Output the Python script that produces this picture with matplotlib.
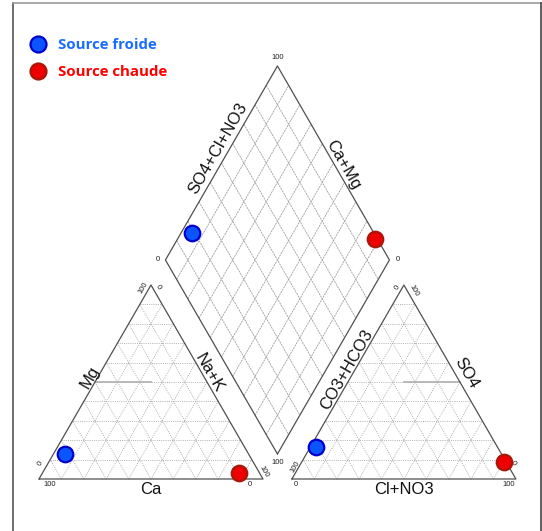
import numpy as np
import matplotlib
matplotlib.use("Agg")
import matplotlib.pyplot as plt
from matplotlib.lines import Line2D

# ---------------- data (percent) ----------------
samples = ["Source froide", "Source chaude"]
ca = [82, 9]
mg = [13, 3]
nak = [5, 88]
hco3 = [81, 1]
so4 = [16.5, 9]
cl = [2.5, 90]
fill_colors = ["#0a55ff", "#ee0000"]
edge_colors = ["#0000cc", "#a81808"]
text_colors = ["#1a6cff", "#ff0000"]

cation_labels = ["Ca", "Mg", "Na+K"]
anion_labels = ["Cl+NO3", "CO3+HCO3", "SO4"]
diamond_labels = ["SO4+Cl+NO3", "Ca+Mg"]

# ---------------- geometry ----------------
W, H = 542, 531
U = 224.0           # pixels per unit side
OX, OY = 39.0, 479.0  # pixel position of cation left corner
h = np.sqrt(3) / 2
g = 0.129           # gap between triangles
AX0 = 1 + g         # anion triangle x offset
B = np.array([1 + g / 2, g * h])  # diamond bottom vertex

fig = plt.figure(figsize=(W / 100, H / 100), dpi=100)
ax = fig.add_axes([0, 0, 1, 1])
ax.set_xlim(-OX / U, (W - OX) / U)
ax.set_ylim(-(H - OY) / U, OY / U)
ax.axis("off")

def P(pt, dx=0, dy=0):
    """geometry point plus pixel offset (dx right, dy down)"""
    return pt[0] + dx / U, pt[1] - dy / U

def cat_xy(c, m, n):
    t = c + m + n
    m, n = m / t, n / t
    return n + 0.5 * m, h * m

def an_xy(hc, s, c):
    t = hc + s + c
    s, c = s / t, c / t
    return AX0 + c + 0.5 * s, h * s

def dia_xy(n, a):
    p = B + (1 - n) * np.array([-0.5, h]) + a * np.array([0.5, h])
    return p[0], p[1]

edge_kw = dict(color="#505050", lw=0.9, zorder=3, solid_capstyle="round")
tri_grid = dict(color="#a8a8a8", lw=0.6, ls=(0, (1.2, 1.4)), zorder=1)
dia_grid = dict(color="#a0a0a0", lw=0.6, ls=(0, (2.5, 0.9)), zorder=1)

# ---- triangles ----
for x0 in (0.0, AX0):
    xs = [x0, x0 + 1, x0 + 0.5, x0]
    ys = [0, 0, h, 0]
    ax.plot(xs, ys, **edge_kw)
    for i in range(1, 10):
        t = i / 10
        ax.plot([x0 + 0.5 * t, x0 + 1 - 0.5 * t], [h * t, h * t], **tri_grid)
        ax.plot([x0 + t, x0 + 0.5 * t], [0, h * t], **tri_grid)
        ax.plot([x0 + t, x0 + t + 0.5 * (1 - t)], [0, h * (1 - t)], **tri_grid)

# classification half lines
ax.plot([0.25, 0.5], [h / 2, h / 2], color="#b4b4b4", lw=1.3, zorder=2)
ax.plot([AX0 + 0.5, AX0 + 0.75], [h / 2, h / 2], color="#b4b4b4", lw=1.3, zorder=2)

# ---- diamond ----
L = B + np.array([-0.5, h])
R = B + np.array([0.5, h])
T = B + np.array([0, 2 * h])
ax.plot([B[0], L[0], T[0], R[0], B[0]], [B[1], L[1], T[1], R[1], B[1]], **edge_kw)
for i in range(1, 10):
    t = i / 10
    p0 = dia_xy(t, 0); p1 = dia_xy(t, 1)
    ax.plot([p0[0], p1[0]], [p0[1], p1[1]], **dia_grid)
    p0 = dia_xy(0, t); p1 = dia_xy(1, t)
    ax.plot([p0[0], p1[0]], [p0[1], p1[1]], **dia_grid)

# ---- points ----
for k in range(len(samples)):
    xc, yc = cat_xy(ca[k], mg[k], nak[k])
    xa, ya = an_xy(hco3[k], so4[k], cl[k])
    a = (so4[k] + cl[k]) / (hco3[k] + so4[k] + cl[k])
    n = nak[k] / (ca[k] + mg[k] + nak[k])
    xd, yd = dia_xy(n, a)
    ax.scatter([xc, xa, xd], [yc, ya, yd], s=125, c=fill_colors[k],
               edgecolors=edge_colors[k], linewidths=1.6, zorder=5)

# ---- tick labels ----
tk = dict(fontsize=5.5, color="#222222", ha="center", va="center",
          family="Liberation Sans", zorder=4)
C0, C1, CA = (0, 0), (1, 0), (0.5, h)
A0, A1, AA = (AX0, 0), (AX0 + 1, 0), (AX0 + 0.5, h)
ax.text(*P(C0, 11, 6), "100", **tk)
ax.text(*P(C1, -13, 6), "0", **tk)
ax.text(*P(C0, 1, -16), "0", rotation=60, **tk)
ax.text(*P(CA, -8, 3), "100", rotation=60, **tk)
ax.text(*P(CA, 7, 2), "0", rotation=-60, **tk)
ax.text(*P(C1, 1, -7), "100", rotation=-60, **tk)

ax.text(*P(A0, 4, 6), "0", **tk)
ax.text(*P(A1, -7, 6), "100", **tk)
ax.text(*P(A0, 3, -12), "100", rotation=60, **tk)
ax.text(*P(AA, -6, 2), "0", rotation=60, **tk)
ax.text(*P(AA, 10, 6), "100", rotation=-60, **tk)
ax.text(*P(A1, -3, -16), "0", rotation=-60, **tk)

ax.text(*P(T, 0, -8), "100", **tk)
ax.text(*P(L, -8, 0), "0", **tk)
ax.text(*P(R, 8, 0), "0", **tk)
ax.text(*P(B, 0, 9), "100", **tk)

# ---- axis titles ----
tt = dict(fontsize=12, color="#111111", ha="center", va="center",
          family="Liberation Sans", zorder=4)
ax.text(*P((0.5, 0), 0, 11), cation_labels[0], **tt)
ax.text(*P((0.25, h / 2), -5, -5), cation_labels[1], rotation=60, **tt)
ax.text(*P((0.75, h / 2), 2, -9), cation_labels[2], rotation=-60, **tt)
ax.text(*P((AX0 + 0.5, 0), 0, 11), anion_labels[0], **tt)
ax.text(*P((AX0 + 0.25, h / 2), -1, -12), anion_labels[1], rotation=60, **tt)
ax.text(*P((AX0 + 0.75, h / 2), 7, -9), anion_labels[2], rotation=-60, **tt)
midUL = (L + T) / 2
midUR = (R + T) / 2
ax.text(*P(midUL, -3, -15), diamond_labels[0], rotation=60, **tt)
ax.text(*P(midUR, 10, 2), diamond_labels[1], rotation=-60, **tt)

# ---- frame ----
fig.add_artist(Line2D([12.5 / W, 12.5 / W], [0, 1 - 2.5 / H], transform=fig.transFigure,
                      color="#555555", lw=1.2))
fig.add_artist(Line2D([12.5 / W, 540.5 / W], [1 - 2.5 / H, 1 - 2.5 / H], transform=fig.transFigure,
                      color="#999999", lw=1.2))
fig.add_artist(Line2D([540.5 / W, 540.5 / W], [0, 1 - 2.5 / H], transform=fig.transFigure,
                      color="#444444", lw=1.2))

# ---- legend ----
handles = [Line2D([], [], ls="", marker="o", markersize=11.5,
                  markerfacecolor=fill_colors[k], markeredgecolor=edge_colors[k],
                  markeredgewidth=1.6) for k in range(len(samples))]
leg = ax.legend(handles, samples, loc="upper left",
                bbox_to_anchor=(30 / W, 1 - 38 / H), bbox_transform=fig.transFigure,
                frameon=False, handlelength=1.0, handletextpad=0.85, borderpad=0,
                borderaxespad=0, labelspacing=0.9,
                prop=dict(family="Open Sans", weight="bold", size=10.8))
for txt, col in zip(leg.get_texts(), text_colors):
    txt.set_color(col)

fig.savefig("out.png", dpi=100)
